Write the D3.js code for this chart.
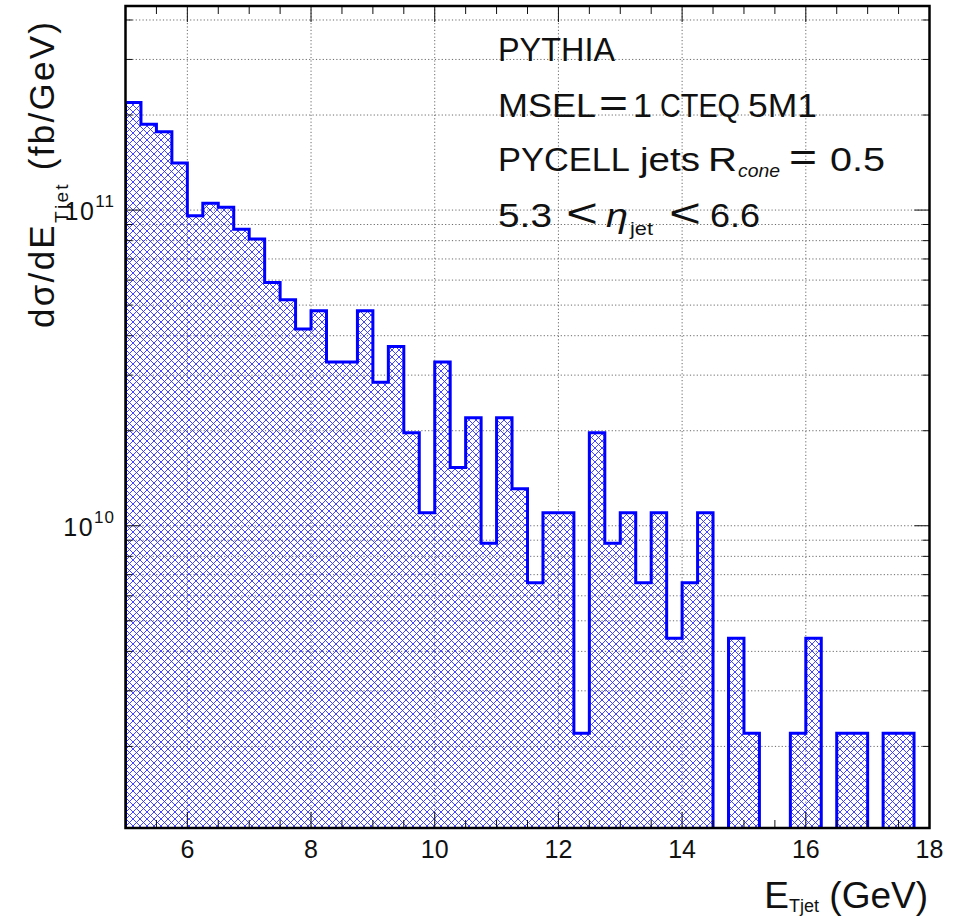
<!DOCTYPE html>
<html>
<head>
<meta charset="utf-8">
<script src="https://cdn.jsdelivr.net/npm/d3@7"></script>
<style>
  html, body { margin: 0; padding: 0; background: #fff; }
  svg { display: block; }
  text { font-family: "Liberation Sans", Arial, Helvetica, sans-serif; fill: #111; }
</style>
</head>
<body>
<svg id="chart" width="965" height="916"></svg>
<script>
// ---------- data ----------
const binLow = [5.00,5.25,5.50,5.75,6.00,6.25,6.50,6.75,7.00,7.25,7.50,7.75,
                8.00,8.25,8.50,8.75,9.00,9.25,9.50,9.75,10.00,10.25,10.50,10.75,
                11.00,11.25,11.50,11.75,12.00,12.25,12.50,12.75,13.00,13.25,13.50,13.75,
                14.00,14.25,14.50,14.75,15.00,15.25,15.50,15.75,16.00,16.25,16.50,16.75,
                17.00,17.25,17.50,17.75];
const binWidth = 0.25;
const dSigma = [2.19e11,1.87e11,1.77e11,1.41e11,9.6e10,1.05e11,1.02e11,8.7e10,8.1e10,5.9e10,5.2e10,4.2e10,
                4.8e10,3.3e10,3.3e10,4.8e10,2.85e10,3.7e10,1.97e10,1.1e10,3.3e10,1.53e10,2.2e10,8.8e9,
                2.2e10,1.31e10,6.6e9,1.1e10,1.1e10,2.2e9,1.97e10,8.8e9,1.1e10,6.6e9,1.1e10,4.4e9,
                6.6e9,1.1e10,0,4.4e9,2.2e9,0,0,2.2e9,4.4e9,0,2.2e9,2.2e9,
                0,2.2e9,2.2e9,0];
const xMajorTicks = [6, 8, 10, 12, 14, 16, 18];
const xTickLabels = ["6", "8", "10", "12", "14", "16", "18"];
const xMinorTicks = [5.5,6.5,7,7.5,8.5,9,9.5,10.5,11,11.5,12.5,13,13.5,14.5,15,15.5,16.5,17,17.5];
const yMajorTicks = [1e10, 1e11];
const yTickExponents = ["10", "11"];
const yMinorTicks = [2e9,3e9,4e9,5e9,6e9,7e9,8e9,9e9,2e10,3e10,4e10,5e10,6e10,7e10,8e10,9e10,2e11,3e11,4e11];
const infoLine1 = ["PYTHIA"];
const infoLine2 = ["MSEL", "=", "1", "CTEQ", "5M1"];
const infoLine3 = ["PYCELL", "jets", "R", "cone", "=", "0.5"];
const infoLine4 = ["5.3", "<", "η", "jet", "<", "6.6"];

// ---------- layout ----------
const L = 125.5, R = 929.5, T = 6, B = 828;
const yMin = 1.103e9, yMax = 4.43e11;

const svg = d3.select("#chart");
const x = d3.scaleLinear().domain([5, 18]).range([L, R]);
const y = d3.scaleLog().domain([yMin, yMax]).range([B, T]);

// hatch pattern
const defs = svg.append("defs");
const pat = defs.append("pattern").attr("id", "hatch")
  .attr("patternUnits", "userSpaceOnUse").attr("width", 7).attr("height", 7);
pat.append("path").attr("d", "M-1,-1 L8,8 M8,-1 L-1,8")
  .attr("stroke", "#3030ff").attr("stroke-width", 0.9).attr("fill", "none");
defs.append("clipPath").attr("id", "frameClip").append("rect")
  .attr("x", L).attr("y", T).attr("width", R - L).attr("height", B - T);

// grid
const gridG = svg.append("g").attr("stroke", "#6a6a6a").attr("stroke-width", 1)
  .attr("stroke-dasharray", "1.2,2.2");
gridG.selectAll("line.vx").data(xMajorTicks.filter(v => v < 18)).enter().append("line")
  .attr("x1", d => x(d)).attr("x2", d => x(d)).attr("y1", T).attr("y2", B);
gridG.selectAll("line.hy").data(yMajorTicks.concat(yMinorTicks)).enter().append("line")
  .attr("x1", L).attr("x2", R).attr("y1", d => y(d)).attr("y2", d => y(d));

// histogram
const bins = binLow.map((lo, i) => ({lo: lo, hi: lo + binWidth, v: dSigma[i]}));
const yv = v => (v > 0 ? y(v) : B + 5);
let dStr = `M${x(bins[0].lo)},${B + 5}`;
bins.forEach(b => {
  dStr += ` L${x(b.lo)},${yv(b.v)} L${x(b.hi)},${yv(b.v)}`;
});
dStr += ` L${x(bins[bins.length - 1].hi)},${B + 5} Z`;
const histG = svg.append("g").attr("clip-path", "url(#frameClip)");
histG.append("path").attr("d", dStr).attr("fill", "url(#hatch)").attr("stroke", "none");
histG.append("path").attr("d", dStr).attr("fill", "none")
  .attr("stroke", "#0000ff").attr("stroke-width", 3).attr("stroke-linejoin", "miter");

// ticks
const tickG = svg.append("g").attr("stroke", "#111").attr("stroke-width", 1);
const xT = xMajorTicks.map(v => ({v, len: 16})).concat(xMinorTicks.map(v => ({v, len: 8})));
xT.forEach(t => {
  tickG.append("line").attr("x1", x(t.v)).attr("x2", x(t.v)).attr("y1", B).attr("y2", B - t.len);
  tickG.append("line").attr("x1", x(t.v)).attr("x2", x(t.v)).attr("y1", T).attr("y2", T + t.len);
});
const yT = yMajorTicks.map(v => ({v, len: 15})).concat(yMinorTicks.map(v => ({v, len: 7})));
yT.forEach(t => {
  tickG.append("line").attr("x1", L).attr("x2", L + t.len).attr("y1", y(t.v)).attr("y2", y(t.v));
  tickG.append("line").attr("x1", R).attr("x2", R - t.len).attr("y1", y(t.v)).attr("y2", y(t.v));
});

// frame
svg.append("rect").attr("x", L).attr("y", T).attr("width", R - L).attr("height", B - T)
  .attr("fill", "none").attr("stroke", "#000").attr("stroke-width", 2.5);

// x tick labels
svg.append("g").selectAll("text").data(xMajorTicks).enter().append("text")
  .attr("x", d => x(d)).attr("y", 858).attr("text-anchor", "middle")
  .attr("font-size", 25).text((d, i) => xTickLabels[i]);

// y tick labels (10^n)
yMajorTicks.forEach((v, i) => {
  const t = svg.append("text").attr("x", 115).attr("y", y(v) + 10).attr("text-anchor", "end")
    .attr("font-size", 25).attr("letter-spacing", 1.5);
  t.append("tspan").text("10");
  t.append("tspan").attr("font-size", 17).attr("dy", -13).attr("letter-spacing", 1).text(yTickExponents[i]);
});

// x axis title
const xt = svg.append("text").attr("x", 928).attr("y", 908).attr("text-anchor", "end")
  .attr("font-size", 37);
xt.append("tspan").text("E");
xt.append("tspan").attr("font-size", 18).attr("dy", 4).text("Tjet");
xt.append("tspan").attr("dy", -4).text(" (GeV)");

// y axis title
const yt = svg.append("text").attr("transform", "translate(54,22) rotate(-90)")
  .attr("text-anchor", "end").attr("font-size", 35)
  .attr("textLength", 306).attr("lengthAdjust", "spacing");
yt.append("tspan").text("dσ/dE");
yt.append("tspan").attr("font-size", 19).attr("dy", 14).text("Tjet");
yt.append("tspan").attr("dy", -14).text(" (fb/GeV)");

// info text: each token placed with [left, right, size, dy, style, family]
const info = svg.append("g").attr("font-size", 33);
function placeTokens(tokens, baseY, layout) {
  tokens.forEach((tok, i) => {
    const s = layout[i];
    const t = info.append("text").attr("x", s[0]).attr("y", baseY + (s[3] || 0))
      .attr("textLength", s[1] - s[0]).attr("lengthAdjust", "spacingAndGlyphs").text(tok);
    if (s[2]) t.attr("font-size", s[2]);
    if (s[4]) t.attr("font-style", s[4]);
    if (s[5]) t.attr("font-family", s[5]);
  });
}
placeTokens(infoLine1, 60.5, [[498, 615]]);
placeTokens(infoLine2, 116.5, [[498, 596], [599, 628, 40, 0], [633, 652], [660, 740], [748, 817]]);
placeTokens(infoLine3, 171, [[498, 630], [640, 700], [708, 737], [738, 780, 19, 6, "italic"],
                             [789, 817, 40, 0], [830, 885]]);
placeTokens(infoLine4, 227, [[498, 552], [566, 598, 40, 0],
                             [606, 628, 34, 0, "italic", "DejaVu Serif, serif"],
                             [630, 653, 19, 8], [669, 701, 40, 0], [710, 760]]);
</script>
</body>
</html>
